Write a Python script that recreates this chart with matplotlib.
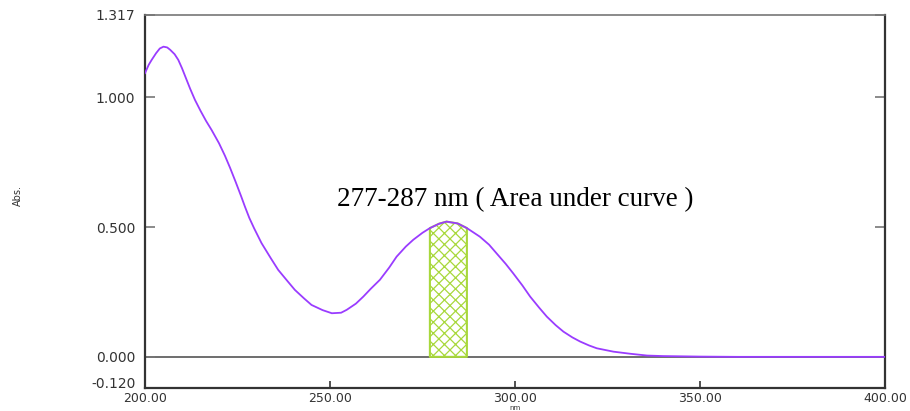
import numpy as np
import matplotlib
matplotlib.use('Agg')
import matplotlib.pyplot as plt

# UV spectrum (nm, Abs.)
wavelength = [200.0, 201.0, 201.8, 203.0, 204.0, 205.0, 206.0, 206.8, 208.0, 209.0,
              210.0, 211.0, 212.2, 213.5, 215.0, 216.5, 218.0, 220.0, 221.6, 223.0,
              224.5, 226.0, 227.0, 228.2, 229.5, 231.5, 234.0,
              236.0, 238.5, 240.5, 243.0, 245.0, 248.0, 250.5, 253.0, 254.5, 257.0,
              259.0, 261.0, 263.5, 266.0, 268.0, 270.5, 272.5, 275.0, 277.0, 279.5,
              281.5, 284.5, 287.0, 290.5, 293.0, 295.0, 297.5, 299.5, 302.0, 304.1,
              306.5, 308.6, 311.0, 313.1, 315.5, 317.6, 320.0, 322.1, 326.6, 331.1,
              335.7, 340.0, 345.0, 350.0, 360.0, 380.0, 400.0]
absorbance = [1.093, 1.125, 1.144, 1.170, 1.188, 1.195, 1.192, 1.183, 1.166, 1.144,
              1.112, 1.076, 1.033, 0.990, 0.948, 0.909, 0.874, 0.823, 0.775, 0.728,
              0.674, 0.618, 0.579, 0.535, 0.495, 0.438, 0.380,
              0.335, 0.292, 0.258, 0.225, 0.200, 0.180, 0.168, 0.170, 0.181, 0.205,
              0.232, 0.262, 0.297, 0.344, 0.386, 0.425, 0.451, 0.478, 0.496, 0.513,
              0.521, 0.514, 0.496, 0.463, 0.432, 0.399, 0.358, 0.322, 0.275, 0.232,
              0.190, 0.155, 0.122, 0.097, 0.075, 0.059, 0.044, 0.033, 0.020, 0.012,
              0.005, 0.003, 0.002, 0.001, 0.0, 0.0, 0.0]

auc_start, auc_end = 277.0, 287.0
yticks = [-0.12, 0.0, 0.5, 1.0, 1.317]
ytick_labels = ['-0.120', '0.000', '0.500', '1.000', '1.317']
xticks = [200, 250, 300, 350, 400]
xtick_labels = ['200.00', '250.00', '300.00', '350.00', '400.00']

wl = np.array(wavelength)
ab = np.array(absorbance)

fig = plt.figure(figsize=(9.1, 4.11), dpi=100)
ax = fig.add_axes([145/910, 1-388/411, 740/910, 373/411])

ax.axhline(0, color='#555555', lw=1.2, zorder=1)
ax.plot(wl, ab, color='#9a3cff', lw=1.3, zorder=3)

plt.rcParams['hatch.linewidth'] = 0.9
plt.rcParams['hatch.color'] = '#a8d83c'
mask = (wl >= auc_start) & (wl <= auc_end)
ax.fill_between(wl, 0, ab, where=mask, facecolor='none', edgecolor='#a8d83c',
                hatch='xxx', lw=1.5, zorder=2)

ax.text(300, 0.605, '277-287 nm ( Area under curve )', family='Liberation Serif',
        fontsize=19.5, ha='center', va='center', color='black')

ax.set_xlim(200, 400)
ax.set_ylim(-0.12, 1.317)
ax.set_xticks(xticks)
ax.set_xticklabels(xtick_labels)
ax.set_yticks(yticks)
ax.set_yticklabels(ytick_labels)
ax.tick_params(axis='y', direction='in', length=7, width=1.2, color='#777777',
               right=True, pad=7, labelsize=10, labelcolor='#333333')
ax.tick_params(axis='x', direction='in', length=5, width=1.2, color='#333333',
               pad=3, labelsize=9, labelcolor='#333333')
for lab in ax.get_xticklabels() + ax.get_yticklabels():
    lab.set_family('DejaVu Sans')
ax.get_yticklabels()[0].set_va('baseline')

for side in ['left', 'bottom', 'right']:
    ax.spines[side].set_color('#333333')
    ax.spines[side].set_linewidth(1.6)
ax.spines['top'].set_color('#777777')
ax.spines['top'].set_linewidth(1.2)

fig.text(18/910, 1-195/411, 'Abs.', rotation=90, fontsize=7, color='#333333',
         ha='center', va='center')
fig.text(515/910, 0.0, 'nm', fontsize=5, color='#333333', ha='center', va='bottom')

fig.savefig('out.png', dpi=100)
